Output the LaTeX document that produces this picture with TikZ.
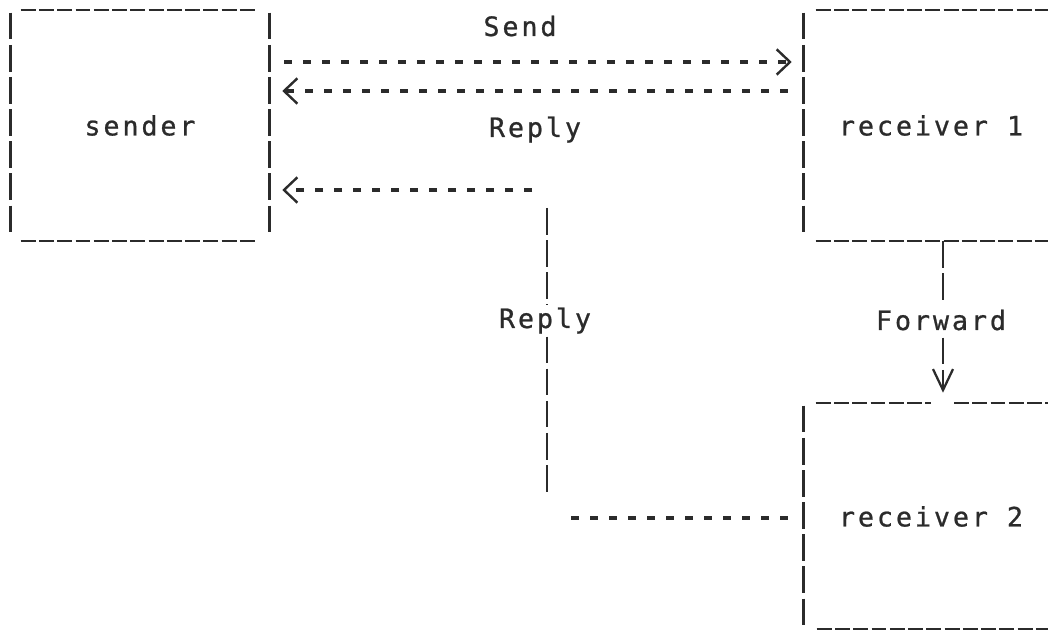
\documentclass[tikz,border=0pt]{standalone}
\usepackage{fontspec}
\setmonofont{DejaVu Sans Mono}[LetterSpace=11,FakeBold=0.8]
\usetikzlibrary{arrows.meta,calc}
\definecolor{ink}{HTML}{2B2B2B}

\begin{document}
\begin{tikzpicture}[x=0.75pt,y=-0.75pt,
  font=\ttfamily\fontsize{20}{24}\selectfont, text=ink,
  boxarea/.style={draw=none, inner sep=0pt},
  vbar/.style={draw=ink, line width=2.1pt, dash pattern=on 20pt off 4.1pt},
  hedge/.style={draw=ink, line width=1.8pt, dash pattern=on 11.2pt off 2.5pt},
  msg/.style={draw=ink, line width=2.3pt, dash pattern=on 6pt off 8.25pt},
  lt/.style={-{Straight Barb[length=10pt,width=19pt,line width=1.8pt]}},
  dn/.style={-{Straight Barb[length=15.75pt,width=15pt,line width=1.7pt]}},
  lbl/.style={fill=white, inner xsep=2pt, inner ysep=5pt}]

\path[use as bounding box, fill=white] (0,0) rectangle (1055,630);

% the three processes
\node[boxarea, minimum width=193.5pt, minimum height=173.25pt] (sender) at (140,125.5) {sender};
\node[boxarea, minimum width=190.5pt, minimum height=173.25pt] (rc1) at (931,125.5) {receiver 1};
\node[boxarea, minimum width=190.5pt, minimum height=170.25pt] (rc2) at (931,516.5) {receiver 2};

% sender outline
\draw[hedge] ($(sender.north west)+(10,0)$) -- ($(sender.north east)+(-12,0)$);
\draw[hedge] ($(sender.south west)+(10,0)$) -- ($(sender.south east)+(-12,0)$);
\draw[vbar] ($(sender.north west)+(0,3)$) -- ($(sender.south west)+(0,-8)$);
\draw[vbar] ($(sender.north east)+(0,3)$) -- ($(sender.south east)+(0,-8)$);

% receiver 1 outline
\draw[hedge] ($(rc1.north west)+(12,0)$) -- ($(rc1.north east)+(-10,0)$);
\draw[hedge] ($(rc1.south west)+(12,0)$) -- ($(rc1.south east)+(-10,0)$);
\draw[vbar] ($(rc1.north west)+(0,3)$) -- ($(rc1.south west)+(0,-8)$);

% forwarding column
\coordinate (fwx) at (943,0);

% receiver 2 outline, with an opening for the forward arrow
\draw[hedge] ($(rc2.north west)+(12,0)$) -- ($(rc2.north -| fwx)+(-12,0)$);
\draw[hedge] ($(rc2.north -| fwx)+(11,0)$) -- ($(rc2.north east)+(-10,0)$);
\draw[hedge] ($(rc2.south west)+(13,-1)$) -- ($(rc2.south east)+(-10,-1)$);
\draw[vbar] ($(rc2.north west)+(0,3)$) -- (rc2.south west);

% send and direct reply
\draw[msg, lt, shorten <=11.25pt, shorten >=9pt] (sender.east |- 0,62) -- (rc1.west |- 0,62);
\node[anchor=base] (sendlbl) at (520,36) {Send};
\draw[msg, lt, shorten <=12pt, shorten >=9.75pt] (rc1.west |- 0,91) -- (sender.east |- 0,91);
\node[anchor=base] (replylbl) at (535,137) {Reply};

% forward from receiver 1 to receiver 2
\draw[vbar, dn, shorten >=7.5pt] (rc1.south -| fwx) -- (rc2.north -| fwx);
\node[lbl, anchor=base] (fwdlbl) at (941,330) {Forward};

% reply from receiver 2 back to the sender
\coordinate (bendlow) at (547,518);
\coordinate (bendhigh) at (547,190);
\draw[msg, shorten <=12pt, shorten >=11.25pt] (rc2.west |- bendlow) -- (bendlow);
\draw[vbar] ($(bendhigh)+(0,18)$) -- ($(bendlow)+(0,-25)$);
\draw[msg, lt, shorten <=11.25pt, shorten >=9.75pt] (bendhigh) -- (sender.east |- bendhigh);
\node[lbl, inner ysep=2pt, anchor=base] (reply2lbl) at (545,328) {Reply};

\end{tikzpicture}
\end{document}
